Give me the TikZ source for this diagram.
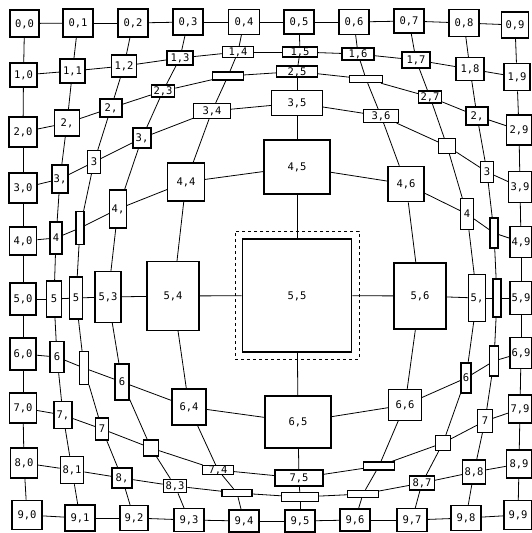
\documentclass[tikz,border=0pt]{standalone}
\usepackage{fontspec}
\newfontfamily\lblfont{DejaVu Sans Mono}
\newcommand\gn[7][]{\node[box,minimum width=#5pt,minimum height=#6pt,#1] (#2) at (#3,#4) {#7};}
\begin{document}
\begin{tikzpicture}[x=1pt,y=-1pt,
  box/.style={draw,fill=white,line width=1.1pt,inner sep=0pt,text height=7.3pt,text depth=0pt,font=\lblfont\fontsize{10.5}{10.5}\selectfont},
  bold/.style={line width=1.6pt},
  edge/.style={line width=0.8pt},
  hilite/.style={draw,dashed,line width=0.9pt,inner sep=0pt}]
\useasboundingbox (0,0) rectangle (532,533);
% highlight frame around the focus node
\node[hilite,minimum width=124pt,minimum height=128pt] (hl) at (297,295) {};
% row 0
\gn{n00}{24.5}{23.5}{29}{27}{0,0}
\gn[bold]{n01}{78}{23}{30}{28}{0,1}
\gn{n02}{133}{23}{30}{28}{0,2}
\gn[bold]{n03}{188}{22}{30}{26}{0,3}
\gn{n04}{244}{22}{31}{25}{0,4}
\gn{n05}{299}{22}{30}{24}{0,5}
\gn{n06}{354}{22}{30}{25}{0,6}
\gn{n07}{409}{21}{30}{24}{0,7}
\gn{n08}{464}{23}{30}{27}{0,8}
\gn{n09}{515}{25}{27}{26}{0,9}
% row 1
\gn[bold]{n10}{23.5}{75}{27}{24}{1,0}
\gn{n11}{72.5}{71}{25}{24}{1,1}
\gn{n12}{124}{66}{25}{22}{1,2}
\gn{n13}{180}{58}{26}{14}{1,3}
\gn{n14}{238}{52}{31}{11}{1,4}
\gn{n15}{300}{52}{35}{10}{1,5}
\gn{n16}{358}{54}{32}{12}{1,6}
\gn{n17}{416}{60}{28}{16}{1,7}
\gn{n18}{470}{69}{28}{23}{1,8}
\gn[bold]{n19}{517}{77}{26}{27}{1,9}
% row 2
\gn{n20}{23}{132}{28}{30}{2,0}
\gn{n21}{67}{123}{25}{26}{2,}
\gn{n22}{111}{108}{22}{18}{2,}
\gn[bold]{n23}{163}{91}{23}{12}{2,3}
\gn{n24}{228}{76}{31}{8}{}
\gn{n25}{297}{71.5}{41}{11}{2,5}
\gn{n26}{366}{79}{33}{7}{}
\gn{n27}{430}{97}{23}{12}{2,7}
\gn{n28}{477}{116}{22}{18}{2,}
\gn{n29}{519}{130}{25}{30}{2,9}
% row 3
\gn{n30}{23}{188}{28}{30}{3,0}
\gn{n31}{60}{179}{16}{28}{3,}
\gn{n32}{94}{162}{13}{23}{3}
\gn{n33}{142}{138}{18}{20}{3,}
\gn{n34}{212}{111}{37}{15}{3,4}
\gn{n35}{297}{103}{51}{25}{3,5}
\gn{n36}{381}{116}{35}{13}{3,6}
\gn{n37}{447}{146}{17}{15}{}
\gn{n38}{487}{172}{13}{21}{3}
\gn{n39}{520}{187}{23}{31}{3,9}
% row 4
\gn[bold]{n40}{23}{241}{27}{28}{4,0}
\gn{n41}{56}{238}{12}{32}{4}
\gn{n42}{80}{228}{8}{33}{}
\gn{n43}{118}{209}{17}{38}{4,}
\gn{n44}{186}{182}{37}{38}{4,4}
\gn{n45}{297}{167}{66}{54}{4,5}
\gn[bold]{n46}{406}{184}{36}{35}{4,6}
\gn{n47}{467}{214}{13}{31}{4}
\gn{n48}{494}{233}{8}{30}{}
\gn{n49}{521}{242}{22}{31}{4,9}
% row 5
\gn{n50}{23}{299}{26}{32}{5,0}
\gn{n51}{54}{299}{15}{36}{5}
\gn{n52}{76}{298}{13}{42}{5}
\gn{n53}{108}{297}{26}{51}{5,3}
\gn{n54}{173}{296}{52}{69}{5,4}
\gn[bold]{n55}{297}{295.5}{109}{113}{5,5}
\gn{n56}{420}{296}{52}{66}{5,6}
\gn{n57}{477}{298}{17}{47}{5,}
\gn{n58}{497}{298}{8}{38}{}
\gn[bold]{n59}{521}{298}{22}{33}{5,9}
% row 6
\gn{n60}{23}{354}{26}{32}{6,0}
\gn{n61}{57}{357}{14}{31}{6}
\gn{n62}{84}{368}{9}{33}{}
\gn{n63}{122}{382}{14}{36}{6}
\gn{n64}{189}{407}{34}{36}{6,4}
\gn{n65}{298}{422}{66}{52}{6,5}
\gn{n66}{405}{405}{33}{31}{6,6}
\gn{n67}{466}{378}{10}{30}{6}
\gn{n68}{494}{361}{9}{30}{}
\gn{n69}{521}{353}{22}{31}{6,9}
% row 7
\gn{n70}{23}{408}{27}{30}{7,0}
\gn{n71}{63}{415}{18}{27}{7,}
\gn{n72}{102}{429}{13}{22}{7}
\gn{n73}{151}{448}{15}{16}{}
\gn{n74}{218}{470}{31}{9}{7,4}
\gn{n75}{299}{478}{48}{16}{7,5}
\gn{n76}{379}{466}{31}{8}{}
\gn{n77}{443}{443}{15}{15}{}
\gn{n78}{485}{421}{15}{23}{7}
\gn{n79}{520}{409}{23}{28}{7,9}
% row 8
\gn{n80}{24}{463}{27}{30}{8,0}
\gn[bold]{n81}{72}{470}{23}{27}{8,1}
\gn{n82}{122}{478}{20}{20}{8,}
\gn[bold]{n83}{175}{486}{23}{13}{8,3}
\gn{n84}{237}{493}{30}{7}{}
\gn{n85}{300}{497}{37}{9}{}
\gn{n86}{363}{494}{31}{7}{}
\gn{n87}{422}{483}{25}{14}{8,7}
\gn{n88}{474}{472}{23}{24}{8,8}
\gn[bold]{n89}{519}{464}{25}{28}{8,9}
% row 9
\gn[bold]{n90}{27}{515}{30}{29}{9,0}
\gn{n91}{80}{518}{30}{26}{9,1}
\gn{n92}{134}{518}{28}{25}{9,2}
\gn{n93}{189}{520}{30}{23}{9,3}
\gn{n94}{244}{521}{30}{22}{9,4}
\gn[bold]{n95}{300}{521}{30}{22}{9,5}
\gn{n96}{355}{520}{30}{22}{9,6}
\gn{n97}{412}{520}{30}{23}{9,7}
\gn[bold]{n98}{466}{518}{30}{25}{9,8}
\gn{n99}{518}{515}{28}{29}{9,9}
% grid connectors
\foreach \r in {0,...,9}{
  \foreach \c in {0,...,8}{
    \pgfmathtruncatemacro\cc{\c+1}
    \draw[edge] (n\r\c) -- (n\r\cc);
    \draw[edge] (n\c\r) -- (n\cc\r);
  }
}
\end{tikzpicture}
\end{document}
